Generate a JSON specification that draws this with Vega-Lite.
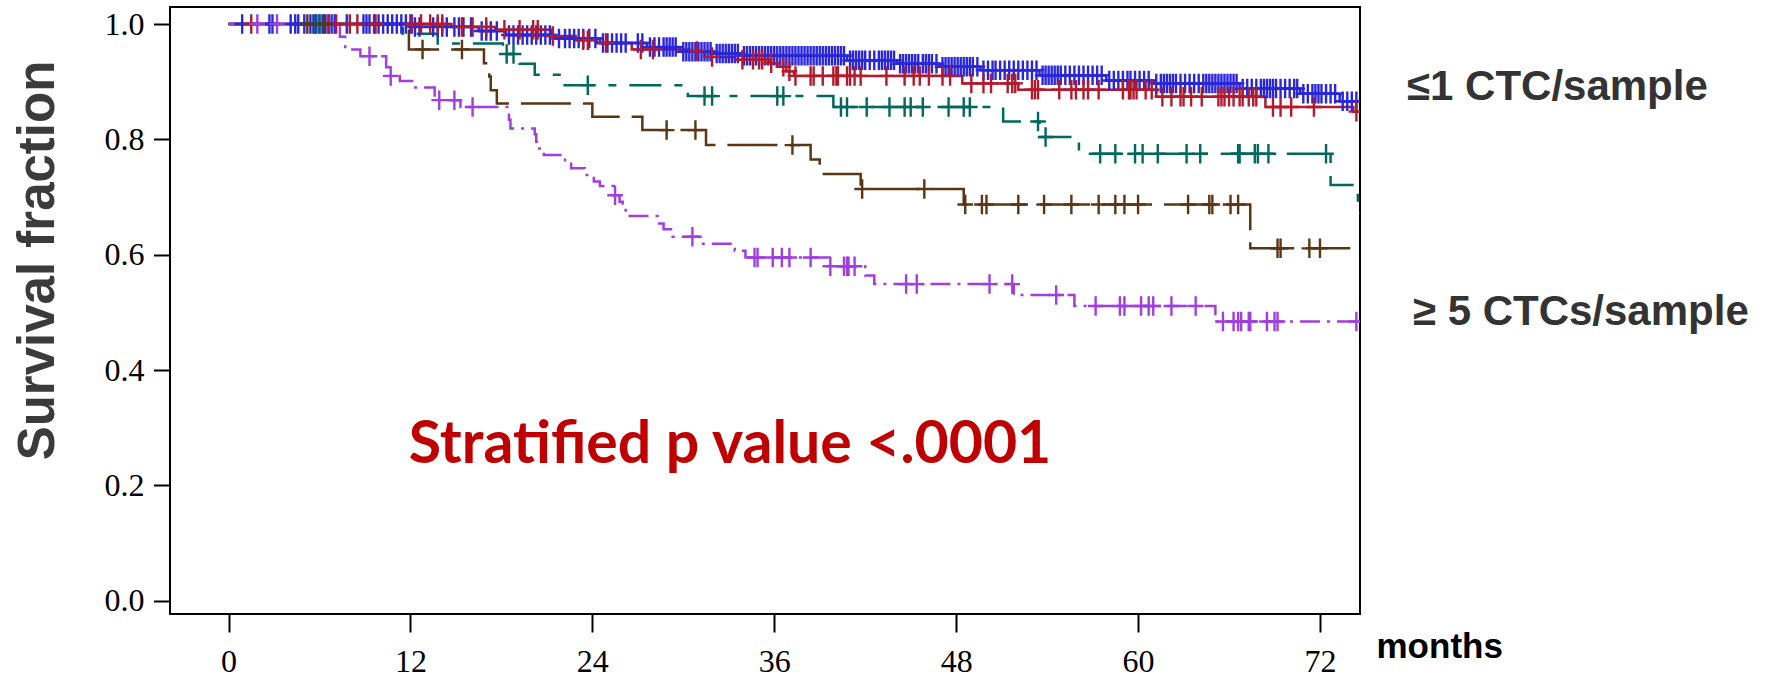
{
"$schema":"https://vega.github.io/schema/vega-lite/v6.json",
"width":1190,"height":607,
"autosize":{"type":"none"},
"padding":{"left":170,"top":7,"right":412,"bottom":66},
"background":"white",
"config":{"view":{"stroke":"black","strokeWidth":2},"axis":{"grid":false,"domain":false}},
"datasets":{
"curves":[
{"g":"0","t":0,"s":1},{"g":"0","t":12.2,"s":0.995},{"g":"0","t":16.5,"s":0.988},{"g":"0","t":18.3,"s":0.981},{"g":"0","t":21.5,"s":0.975},{"g":"0","t":24.5,"s":0.967},{"g":"0","t":27.6,"s":0.96},{"g":"0","t":29.8,"s":0.952},{"g":"0","t":32.0,"s":0.949},{"g":"0","t":33.8,"s":0.945},{"g":"0","t":40.8,"s":0.937},{"g":"0","t":44.1,"s":0.931},{"g":"0","t":46.9,"s":0.926},{"g":"0","t":49.6,"s":0.92},{"g":"0","t":53.5,"s":0.911},{"g":"0","t":57.9,"s":0.902},{"g":"0","t":61.0,"s":0.897},{"g":"0","t":66.7,"s":0.888},{"g":"0","t":70.7,"s":0.879},{"g":"0","t":73.3,"s":0.866},{"g":"0","t":74.6,"s":0.866},
{"g":"1","t":0,"s":1},{"g":"1","t":14.7,"s":0.995},{"g":"1","t":17.6,"s":0.99},{"g":"1","t":21.3,"s":0.979},{"g":"1","t":22.9,"s":0.972},{"g":"1","t":24.3,"s":0.967},{"g":"1","t":26.6,"s":0.956},{"g":"1","t":30.4,"s":0.953},{"g":"1","t":31.4,"s":0.943},{"g":"1","t":33.4,"s":0.938},{"g":"1","t":35.7,"s":0.932},{"g":"1","t":36.2,"s":0.926},{"g":"1","t":36.8,"s":0.918},{"g":"1","t":37.3,"s":0.91},{"g":"1","t":48.4,"s":0.897},{"g":"1","t":52.1,"s":0.886},{"g":"1","t":61.2,"s":0.874},{"g":"1","t":68.4,"s":0.856},{"g":"1","t":74.2,"s":0.848},{"g":"1","t":74.6,"s":0.848},
{"g":"2","t":0,"s":1},{"g":"2","t":11.5,"s":0.983},{"g":"2","t":13.8,"s":0.966},{"g":"2","t":18.1,"s":0.948},{"g":"2","t":19.2,"s":0.931},{"g":"2","t":20.2,"s":0.912},{"g":"2","t":22.0,"s":0.894},{"g":"2","t":30.3,"s":0.875},{"g":"2","t":39.9,"s":0.856},{"g":"2","t":51.1,"s":0.831},{"g":"2","t":53.5,"s":0.804},{"g":"2","t":56.1,"s":0.775},{"g":"2","t":72.7,"s":0.721},{"g":"2","t":74.5,"s":0.672},{"g":"2","t":74.64,"s":0.672},
{"g":"3-4","t":0,"s":1},{"g":"3-4","t":11.9,"s":0.956},{"g":"3-4","t":16.85,"s":0.932},{"g":"3-4","t":17.2,"s":0.909},{"g":"3-4","t":17.3,"s":0.885},{"g":"3-4","t":17.7,"s":0.862},{"g":"3-4","t":24.0,"s":0.839},{"g":"3-4","t":27.3,"s":0.816},{"g":"3-4","t":31.5,"s":0.79},{"g":"3-4","t":38.4,"s":0.765},{"g":"3-4","t":39.0,"s":0.74},{"g":"3-4","t":41.7,"s":0.714},{"g":"3-4","t":48.5,"s":0.687},{"g":"3-4","t":67.4,"s":0.611},{"g":"3-4","t":74.0,"s":0.611},
{"g":"≥5","t":0,"s":1},{"g":"≥5","t":7.35,"s":0.978},{"g":"≥5","t":7.7,"s":0.956},{"g":"≥5","t":8.7,"s":0.944},{"g":"≥5","t":10.4,"s":0.925},{"g":"≥5","t":10.6,"s":0.91},{"g":"≥5","t":11.3,"s":0.901},{"g":"≥5","t":12.2,"s":0.89},{"g":"≥5","t":13.6,"s":0.868},{"g":"≥5","t":15.3,"s":0.856},{"g":"≥5","t":18.5,"s":0.834},{"g":"≥5","t":18.6,"s":0.819},{"g":"≥5","t":20.2,"s":0.809},{"g":"≥5","t":20.3,"s":0.796},{"g":"≥5","t":20.5,"s":0.784},{"g":"≥5","t":20.8,"s":0.773},{"g":"≥5","t":22.2,"s":0.761},{"g":"≥5","t":22.6,"s":0.75},{"g":"≥5","t":23.5,"s":0.738},{"g":"≥5","t":24.1,"s":0.727},{"g":"≥5","t":24.5,"s":0.719},{"g":"≥5","t":25.4,"s":0.703},{"g":"≥5","t":25.8,"s":0.692},{"g":"≥5","t":26.0,"s":0.683},{"g":"≥5","t":26.2,"s":0.667},{"g":"≥5","t":28.3,"s":0.654},{"g":"≥5","t":28.7,"s":0.644},{"g":"≥5","t":29.3,"s":0.631},{"g":"≥5","t":31.3,"s":0.619},{"g":"≥5","t":33.4,"s":0.607},{"g":"≥5","t":34.1,"s":0.595},{"g":"≥5","t":39.6,"s":0.58},{"g":"≥5","t":42.0,"s":0.564},{"g":"≥5","t":42.6,"s":0.549},{"g":"≥5","t":51.8,"s":0.53},{"g":"≥5","t":55.8,"s":0.511},{"g":"≥5","t":65.1,"s":0.484},{"g":"≥5","t":74.6,"s":0.484}
],
"cens":[
{"g":"0","t":0.9,"s":1},{"g":"0","t":2.7,"s":1},{"g":"0","t":2.9,"s":1},{"g":"0","t":4.1,"s":1},{"g":"0","t":4.4,"s":1},{"g":"0","t":4.6,"s":1},{"g":"0","t":5.0,"s":1},{"g":"0","t":5.4,"s":1},{"g":"0","t":5.6,"s":1},{"g":"0","t":5.8,"s":1},{"g":"0","t":6.0,"s":1},{"g":"0","t":6.2,"s":1},{"g":"0","t":6.4,"s":1},{"g":"0","t":6.6,"s":1},{"g":"0","t":6.8,"s":1},{"g":"0","t":7.0,"s":1},{"g":"0","t":7.8,"s":1},{"g":"0","t":8.9,"s":1},{"g":"0","t":9.1,"s":1},{"g":"0","t":9.3,"s":1},{"g":"0","t":9.6,"s":1},{"g":"0","t":9.9,"s":1},{"g":"0","t":10.2,"s":1},{"g":"0","t":10.5,"s":1},{"g":"0","t":10.8,"s":1},{"g":"0","t":11.1,"s":1},{"g":"0","t":11.4,"s":1},{"g":"0","t":11.7,"s":1},{"g":"0","t":12.0,"s":1},
{"g":"0","t":12.3,"s":0.995},{"g":"0","t":12.6,"s":0.995},{"g":"0","t":13.5,"s":0.995},{"g":"0","t":13.8,"s":0.995},{"g":"0","t":14.1,"s":0.995},{"g":"0","t":14.4,"s":0.995},{"g":"0","t":14.9,"s":0.995},{"g":"0","t":15.2,"s":0.995},{"g":"0","t":15.5,"s":0.995},{"g":"0","t":16.0,"s":0.995},
{"g":"0","t":16.7,"s":0.988},{"g":"0","t":17.0,"s":0.988},{"g":"0","t":17.3,"s":0.988},{"g":"0","t":17.7,"s":0.988},
{"g":"0","t":18.5,"s":0.981},{"g":"0","t":18.8,"s":0.981},{"g":"0","t":19.1,"s":0.981},{"g":"0","t":19.4,"s":0.981},{"g":"0","t":19.7,"s":0.981},{"g":"0","t":20.0,"s":0.981},{"g":"0","t":20.3,"s":0.981},{"g":"0","t":20.6,"s":0.981},{"g":"0","t":20.9,"s":0.981},{"g":"0","t":21.2,"s":0.981},
{"g":"0","t":21.8,"s":0.975},{"g":"0","t":22.2,"s":0.975},{"g":"0","t":22.5,"s":0.975},{"g":"0","t":22.8,"s":0.975},{"g":"0","t":23.1,"s":0.975},{"g":"0","t":23.4,"s":0.975},{"g":"0","t":23.8,"s":0.975},{"g":"0","t":24.2,"s":0.975},
{"g":"0","t":24.7,"s":0.967},{"g":"0","t":25.0,"s":0.967},{"g":"0","t":25.3,"s":0.967},{"g":"0","t":25.6,"s":0.967},{"g":"0","t":25.9,"s":0.967},{"g":"0","t":26.2,"s":0.967},{"g":"0","t":27.0,"s":0.967},{"g":"0","t":27.3,"s":0.967},
{"g":"0","t":27.8,"s":0.96},{"g":"0","t":28.1,"s":0.96},{"g":"0","t":28.4,"s":0.96},{"g":"0","t":28.7,"s":0.96},{"g":"0","t":28.9,"s":0.96},{"g":"0","t":29.1,"s":0.96},{"g":"0","t":29.3,"s":0.96},{"g":"0","t":29.5,"s":0.96},
{"g":"0","t":30.0,"s":0.952},{"g":"0","t":30.2,"s":0.952},{"g":"0","t":30.4,"s":0.952},{"g":"0","t":30.6,"s":0.952},{"g":"0","t":30.8,"s":0.952},{"g":"0","t":31.0,"s":0.952},{"g":"0","t":31.2,"s":0.952},{"g":"0","t":31.4,"s":0.952},{"g":"0","t":31.6,"s":0.952},{"g":"0","t":31.8,"s":0.952},
{"g":"0","t":32.2,"s":0.949},{"g":"0","t":32.4,"s":0.949},{"g":"0","t":32.6,"s":0.949},{"g":"0","t":32.8,"s":0.949},{"g":"0","t":33.0,"s":0.949},{"g":"0","t":33.2,"s":0.949},{"g":"0","t":33.4,"s":0.949},{"g":"0","t":33.6,"s":0.949},
{"g":"0","t":34.0,"s":0.945},{"g":"0","t":34.2,"s":0.945},{"g":"0","t":34.4,"s":0.945},{"g":"0","t":34.6,"s":0.945},{"g":"0","t":34.8,"s":0.945},{"g":"0","t":35.0,"s":0.945},{"g":"0","t":35.2,"s":0.945},{"g":"0","t":35.4,"s":0.945},{"g":"0","t":35.6,"s":0.945},{"g":"0","t":35.8,"s":0.945},{"g":"0","t":36.0,"s":0.945},{"g":"0","t":36.2,"s":0.945},{"g":"0","t":36.4,"s":0.945},{"g":"0","t":36.6,"s":0.945},{"g":"0","t":36.8,"s":0.945},{"g":"0","t":37.0,"s":0.945},{"g":"0","t":37.2,"s":0.945},{"g":"0","t":37.4,"s":0.945},{"g":"0","t":37.6,"s":0.945},{"g":"0","t":37.8,"s":0.945},{"g":"0","t":38.0,"s":0.945},{"g":"0","t":38.2,"s":0.945},{"g":"0","t":38.4,"s":0.945},{"g":"0","t":38.6,"s":0.945},{"g":"0","t":38.8,"s":0.945},{"g":"0","t":39.0,"s":0.945},{"g":"0","t":39.2,"s":0.945},{"g":"0","t":39.4,"s":0.945},{"g":"0","t":39.6,"s":0.945},{"g":"0","t":39.8,"s":0.945},{"g":"0","t":40.0,"s":0.945},{"g":"0","t":40.2,"s":0.945},{"g":"0","t":40.4,"s":0.945},{"g":"0","t":40.6,"s":0.945},
{"g":"0","t":41.0,"s":0.937},{"g":"0","t":41.2,"s":0.937},{"g":"0","t":41.4,"s":0.937},{"g":"0","t":41.6,"s":0.937},{"g":"0","t":41.8,"s":0.937},{"g":"0","t":42.0,"s":0.937},{"g":"0","t":42.3,"s":0.937},{"g":"0","t":42.6,"s":0.937},{"g":"0","t":42.9,"s":0.937},{"g":"0","t":43.1,"s":0.937},{"g":"0","t":43.3,"s":0.937},{"g":"0","t":43.5,"s":0.937},{"g":"0","t":43.7,"s":0.937},{"g":"0","t":43.9,"s":0.937},
{"g":"0","t":44.3,"s":0.931},{"g":"0","t":44.5,"s":0.931},{"g":"0","t":44.7,"s":0.931},{"g":"0","t":44.9,"s":0.931},{"g":"0","t":45.1,"s":0.931},{"g":"0","t":45.3,"s":0.931},{"g":"0","t":45.5,"s":0.931},{"g":"0","t":45.8,"s":0.931},{"g":"0","t":46.0,"s":0.931},{"g":"0","t":46.2,"s":0.931},{"g":"0","t":46.4,"s":0.931},{"g":"0","t":46.7,"s":0.931},
{"g":"0","t":47.1,"s":0.926},{"g":"0","t":47.3,"s":0.926},{"g":"0","t":47.5,"s":0.926},{"g":"0","t":47.7,"s":0.926},{"g":"0","t":47.9,"s":0.926},{"g":"0","t":48.1,"s":0.926},{"g":"0","t":48.3,"s":0.926},{"g":"0","t":48.5,"s":0.926},{"g":"0","t":48.7,"s":0.926},{"g":"0","t":48.9,"s":0.926},{"g":"0","t":49.1,"s":0.926},{"g":"0","t":49.4,"s":0.926},
{"g":"0","t":49.8,"s":0.92},{"g":"0","t":50.1,"s":0.92},{"g":"0","t":50.4,"s":0.92},{"g":"0","t":50.6,"s":0.92},{"g":"0","t":50.9,"s":0.92},{"g":"0","t":51.2,"s":0.92},{"g":"0","t":51.5,"s":0.92},{"g":"0","t":51.8,"s":0.92},{"g":"0","t":52.1,"s":0.92},{"g":"0","t":52.4,"s":0.92},{"g":"0","t":52.7,"s":0.92},{"g":"0","t":53.0,"s":0.92},{"g":"0","t":53.3,"s":0.92},
{"g":"0","t":53.7,"s":0.911},{"g":"0","t":53.9,"s":0.911},{"g":"0","t":54.1,"s":0.911},{"g":"0","t":54.3,"s":0.911},{"g":"0","t":54.5,"s":0.911},{"g":"0","t":54.7,"s":0.911},{"g":"0","t":54.9,"s":0.911},{"g":"0","t":55.2,"s":0.911},{"g":"0","t":55.5,"s":0.911},{"g":"0","t":55.8,"s":0.911},{"g":"0","t":56.1,"s":0.911},{"g":"0","t":56.4,"s":0.911},{"g":"0","t":56.7,"s":0.911},{"g":"0","t":57.0,"s":0.911},{"g":"0","t":57.3,"s":0.911},{"g":"0","t":57.6,"s":0.911},
{"g":"0","t":58.1,"s":0.902},{"g":"0","t":58.4,"s":0.902},{"g":"0","t":58.7,"s":0.902},{"g":"0","t":59.0,"s":0.902},{"g":"0","t":59.3,"s":0.902},{"g":"0","t":59.5,"s":0.902},{"g":"0","t":59.8,"s":0.902},{"g":"0","t":60.1,"s":0.902},{"g":"0","t":60.4,"s":0.902},{"g":"0","t":60.7,"s":0.902},
{"g":"0","t":61.2,"s":0.897},{"g":"0","t":61.5,"s":0.897},{"g":"0","t":61.7,"s":0.897},{"g":"0","t":61.9,"s":0.897},{"g":"0","t":62.1,"s":0.897},{"g":"0","t":62.3,"s":0.897},{"g":"0","t":62.5,"s":0.897},{"g":"0","t":62.8,"s":0.897},{"g":"0","t":63.1,"s":0.897},{"g":"0","t":63.4,"s":0.897},{"g":"0","t":63.7,"s":0.897},{"g":"0","t":64.0,"s":0.897},{"g":"0","t":64.3,"s":0.897},{"g":"0","t":64.5,"s":0.897},{"g":"0","t":64.7,"s":0.897},{"g":"0","t":64.9,"s":0.897},{"g":"0","t":65.1,"s":0.897},{"g":"0","t":65.3,"s":0.897},{"g":"0","t":65.5,"s":0.897},{"g":"0","t":65.7,"s":0.897},{"g":"0","t":65.9,"s":0.897},{"g":"0","t":66.1,"s":0.897},{"g":"0","t":66.3,"s":0.897},{"g":"0","t":66.5,"s":0.897},
{"g":"0","t":66.9,"s":0.888},{"g":"0","t":67.2,"s":0.888},{"g":"0","t":67.5,"s":0.888},{"g":"0","t":67.8,"s":0.888},{"g":"0","t":68.1,"s":0.888},{"g":"0","t":68.3,"s":0.888},{"g":"0","t":68.5,"s":0.888},{"g":"0","t":68.7,"s":0.888},{"g":"0","t":68.9,"s":0.888},{"g":"0","t":69.1,"s":0.888},{"g":"0","t":69.4,"s":0.888},{"g":"0","t":69.7,"s":0.888},{"g":"0","t":70.0,"s":0.888},{"g":"0","t":70.3,"s":0.888},{"g":"0","t":70.5,"s":0.888},
{"g":"0","t":70.9,"s":0.879},{"g":"0","t":71.2,"s":0.879},{"g":"0","t":71.5,"s":0.879},{"g":"0","t":71.7,"s":0.879},{"g":"0","t":71.9,"s":0.879},{"g":"0","t":72.1,"s":0.879},{"g":"0","t":72.4,"s":0.879},{"g":"0","t":72.7,"s":0.879},{"g":"0","t":73.0,"s":0.879},
{"g":"0","t":73.5,"s":0.866},{"g":"0","t":73.8,"s":0.866},{"g":"0","t":74.1,"s":0.866},{"g":"0","t":74.4,"s":0.866},
{"g":"1","t":1.5,"s":1},{"g":"1","t":6.6,"s":1},{"g":"1","t":7.1,"s":1},{"g":"1","t":8.0,"s":1},{"g":"1","t":8.5,"s":1},{"g":"1","t":9.7,"s":1},{"g":"1","t":12.1,"s":1},{"g":"1","t":12.7,"s":1},{"g":"1","t":13.3,"s":1},{"g":"1","t":13.8,"s":1},{"g":"1","t":14.1,"s":1},
{"g":"1","t":15.4,"s":0.995},{"g":"1","t":16.1,"s":0.995},{"g":"1","t":17.0,"s":0.995},
{"g":"1","t":18.2,"s":0.99},{"g":"1","t":19.2,"s":0.99},{"g":"1","t":20.1,"s":0.99},{"g":"1","t":20.4,"s":0.99},
{"g":"1","t":21.4,"s":0.979},{"g":"1","t":23.4,"s":0.972},{"g":"1","t":23.7,"s":0.972},{"g":"1","t":24.9,"s":0.967},{"g":"1","t":27.2,"s":0.956},{"g":"1","t":28.0,"s":0.956},{"g":"1","t":30.9,"s":0.953},{"g":"1","t":31.9,"s":0.943},
{"g":"1","t":33.9,"s":0.938},{"g":"1","t":34.6,"s":0.938},{"g":"1","t":35.0,"s":0.938},{"g":"1","t":35.2,"s":0.938},{"g":"1","t":35.8,"s":0.932},{"g":"1","t":36.6,"s":0.926},{"g":"1","t":37.0,"s":0.918},
{"g":"1","t":37.4,"s":0.91},{"g":"1","t":38.4,"s":0.91},{"g":"1","t":38.6,"s":0.91},{"g":"1","t":39.2,"s":0.91},{"g":"1","t":39.9,"s":0.91},{"g":"1","t":40.1,"s":0.91},{"g":"1","t":40.2,"s":0.91},{"g":"1","t":40.8,"s":0.91},{"g":"1","t":41.0,"s":0.91},{"g":"1","t":41.3,"s":0.91},{"g":"1","t":41.7,"s":0.91},{"g":"1","t":43.4,"s":0.91},{"g":"1","t":44.6,"s":0.91},{"g":"1","t":45.2,"s":0.91},{"g":"1","t":45.6,"s":0.91},{"g":"1","t":46.2,"s":0.91},{"g":"1","t":47.1,"s":0.91},{"g":"1","t":47.6,"s":0.91},
{"g":"1","t":49.0,"s":0.897},{"g":"1","t":49.8,"s":0.897},{"g":"1","t":50.3,"s":0.897},{"g":"1","t":51.4,"s":0.897},{"g":"1","t":51.7,"s":0.897},{"g":"1","t":51.9,"s":0.897},
{"g":"1","t":53.0,"s":0.886},{"g":"1","t":53.2,"s":0.886},{"g":"1","t":53.4,"s":0.886},{"g":"1","t":54.8,"s":0.886},{"g":"1","t":55.6,"s":0.886},{"g":"1","t":55.9,"s":0.886},{"g":"1","t":56.4,"s":0.886},{"g":"1","t":56.7,"s":0.886},{"g":"1","t":57.4,"s":0.886},{"g":"1","t":59.0,"s":0.886},{"g":"1","t":59.4,"s":0.886},{"g":"1","t":59.5,"s":0.886},{"g":"1","t":59.7,"s":0.886},{"g":"1","t":59.9,"s":0.886},{"g":"1","t":60.5,"s":0.886},{"g":"1","t":60.9,"s":0.886},
{"g":"1","t":61.6,"s":0.874},{"g":"1","t":62.2,"s":0.874},{"g":"1","t":62.8,"s":0.874},{"g":"1","t":63.0,"s":0.874},{"g":"1","t":63.5,"s":0.874},{"g":"1","t":64.2,"s":0.874},{"g":"1","t":65.3,"s":0.874},{"g":"1","t":65.5,"s":0.874},{"g":"1","t":65.7,"s":0.874},{"g":"1","t":66.0,"s":0.874},{"g":"1","t":66.3,"s":0.874},{"g":"1","t":66.7,"s":0.874},{"g":"1","t":66.9,"s":0.874},{"g":"1","t":67.3,"s":0.874},{"g":"1","t":67.6,"s":0.874},{"g":"1","t":67.8,"s":0.874},
{"g":"1","t":68.9,"s":0.856},{"g":"1","t":69.4,"s":0.856},{"g":"1","t":70.1,"s":0.856},{"g":"1","t":71.6,"s":0.856},{"g":"1","t":74.4,"s":0.848},
{"g":"2","t":5.7,"s":1},{"g":"2","t":6.0,"s":1},{"g":"2","t":18.35,"s":0.948},{"g":"2","t":18.8,"s":0.948},{"g":"2","t":23.7,"s":0.894},{"g":"2","t":31.4,"s":0.875},{"g":"2","t":31.9,"s":0.875},{"g":"2","t":36.2,"s":0.875},{"g":"2","t":36.6,"s":0.875},
{"g":"2","t":40.4,"s":0.856},{"g":"2","t":40.8,"s":0.856},{"g":"2","t":42.1,"s":0.856},{"g":"2","t":43.6,"s":0.856},{"g":"2","t":44.6,"s":0.856},{"g":"2","t":45.0,"s":0.856},{"g":"2","t":45.8,"s":0.856},{"g":"2","t":47.5,"s":0.856},{"g":"2","t":48.5,"s":0.856},{"g":"2","t":48.9,"s":0.856},
{"g":"2","t":53.4,"s":0.831},{"g":"2","t":53.9,"s":0.804},
{"g":"2","t":57.5,"s":0.775},{"g":"2","t":58.5,"s":0.775},{"g":"2","t":59.8,"s":0.775},{"g":"2","t":60.3,"s":0.775},{"g":"2","t":61.3,"s":0.775},{"g":"2","t":63.2,"s":0.775},{"g":"2","t":64.1,"s":0.775},{"g":"2","t":66.6,"s":0.775},{"g":"2","t":66.7,"s":0.775},{"g":"2","t":67.7,"s":0.775},{"g":"2","t":67.9,"s":0.775},{"g":"2","t":68.6,"s":0.775},{"g":"2","t":72.4,"s":0.775},
{"g":"3-4","t":5.2,"s":1},{"g":"3-4","t":6.3,"s":1},{"g":"3-4","t":12.8,"s":0.956},{"g":"3-4","t":15.4,"s":0.956},{"g":"3-4","t":28.9,"s":0.816},{"g":"3-4","t":30.8,"s":0.816},{"g":"3-4","t":37.2,"s":0.79},{"g":"3-4","t":41.8,"s":0.714},{"g":"3-4","t":45.9,"s":0.714},
{"g":"3-4","t":48.6,"s":0.687},{"g":"3-4","t":49.7,"s":0.687},{"g":"3-4","t":50.0,"s":0.687},{"g":"3-4","t":52.1,"s":0.687},{"g":"3-4","t":53.8,"s":0.687},{"g":"3-4","t":55.6,"s":0.687},{"g":"3-4","t":57.4,"s":0.687},{"g":"3-4","t":58.5,"s":0.687},{"g":"3-4","t":59.1,"s":0.687},{"g":"3-4","t":60.0,"s":0.687},{"g":"3-4","t":63.3,"s":0.687},{"g":"3-4","t":64.7,"s":0.687},{"g":"3-4","t":64.9,"s":0.687},{"g":"3-4","t":66.1,"s":0.687},{"g":"3-4","t":66.6,"s":0.687},
{"g":"3-4","t":69.2,"s":0.611},{"g":"3-4","t":69.4,"s":0.611},{"g":"3-4","t":71.3,"s":0.611},{"g":"3-4","t":72.0,"s":0.611},
{"g":"≥5","t":1.9,"s":1},{"g":"≥5","t":3.2,"s":1},{"g":"≥5","t":9.3,"s":0.944},{"g":"≥5","t":10.7,"s":0.91},{"g":"≥5","t":13.9,"s":0.868},{"g":"≥5","t":14.9,"s":0.868},{"g":"≥5","t":16.1,"s":0.856},{"g":"≥5","t":25.5,"s":0.703},{"g":"≥5","t":30.6,"s":0.631},
{"g":"≥5","t":34.7,"s":0.595},{"g":"≥5","t":34.9,"s":0.595},{"g":"≥5","t":35.9,"s":0.595},{"g":"≥5","t":36.5,"s":0.595},{"g":"≥5","t":37.0,"s":0.595},{"g":"≥5","t":38.4,"s":0.595},
{"g":"≥5","t":39.7,"s":0.58},{"g":"≥5","t":40.6,"s":0.58},{"g":"≥5","t":40.8,"s":0.58},{"g":"≥5","t":40.9,"s":0.58},{"g":"≥5","t":41.3,"s":0.58},
{"g":"≥5","t":44.7,"s":0.549},{"g":"≥5","t":45.4,"s":0.549},{"g":"≥5","t":50.2,"s":0.549},{"g":"≥5","t":51.7,"s":0.549},{"g":"≥5","t":54.6,"s":0.53},
{"g":"≥5","t":57.2,"s":0.511},{"g":"≥5","t":58.8,"s":0.511},{"g":"≥5","t":59.1,"s":0.511},{"g":"≥5","t":60.2,"s":0.511},{"g":"≥5","t":60.7,"s":0.511},{"g":"≥5","t":61.0,"s":0.511},{"g":"≥5","t":62.2,"s":0.511},{"g":"≥5","t":63.8,"s":0.511},
{"g":"≥5","t":65.6,"s":0.484},{"g":"≥5","t":66.3,"s":0.484},{"g":"≥5","t":66.6,"s":0.484},{"g":"≥5","t":66.8,"s":0.484},{"g":"≥5","t":67.3,"s":0.484},{"g":"≥5","t":67.4,"s":0.484},{"g":"≥5","t":68.5,"s":0.484},{"g":"≥5","t":69.0,"s":0.484},{"g":"≥5","t":69.2,"s":0.484},{"g":"≥5","t":74.4,"s":0.484}
],
"pnote":[{"t":11.89,"s":0.2383,"label":"Stratified p value <.0001"}],
"side":[{"t":77.74,"s":0.868,"label":"≤1 CTC/sample"},{"t":78.13,"s":0.478,"label":"≥ 5 CTCs/sample"}]
},
"layer":[
{"data":{"name":"curves"},
 "mark":{"type":"line","interpolate":"step-after","strokeWidth":2.5,"clip":true},
 "encoding":{
  "x":{"field":"t","type":"quantitative","scale":{"domain":[-3.86,74.64],"nice":false,"zero":false},
   "axis":{"values":[0,12,24,36,48,60,72],"tickSize":18,"tickWidth":2,"tickColor":"black","labelFont":"Liberation Serif","labelFontSize":32,"labelColor":"black","labelPadding":14,"title":"months","titleFont":"Liberation Sans","titleFontWeight":"bold","titleFontSize":35,"titleColor":"black","titleX":1206,"titleY":43,"titleAlign":"left","titleBaseline":"alphabetic"}},
  "y":{"field":"s","type":"quantitative","scale":{"domain":[-0.0231,1.0295],"nice":false,"zero":false},
   "axis":{"values":[0,0.2,0.4,0.6,0.8,1.0],"format":".1f","tickSize":16.5,"tickWidth":2,"tickColor":"black","labelFont":"Liberation Serif","labelFontSize":32,"labelColor":"black","labelPadding":9.5,"title":"Survival fraction","titleFont":"Liberation Sans","titleFontWeight":"bold","titleFontSize":51,"titleColor":"#3b3b3b","titleAngle":-90,"titleX":-117,"titleY":253,"titleAlign":"center","titleBaseline":"alphabetic"}},
  "color":{"field":"g","type":"nominal","scale":{"domain":["0","1","2","3-4","≥5"],"range":["#2a26dc","#b21a2e","#00695e","#5a3612","#a03ee0"]},"legend":null},
  "strokeDash":{"field":"g","type":"nominal","scale":{"domain":["0","1","2","3-4","≥5"],"range":[[1,0],[1,0],[32,13,8,13],[50,12],[20,7,3,7]]},"legend":null}
 }},
{"data":{"name":"cens"},
 "mark":{"type":"point","shape":"M-0.8,0H0.8M0,-1V1","size":380,"filled":false,"strokeWidth":2.4,"opacity":1,"clip":true},
 "encoding":{
  "x":{"field":"t","type":"quantitative"},
  "y":{"field":"s","type":"quantitative"},
  "color":{"field":"g","type":"nominal","legend":null}
 }},
{"data":{"name":"pnote"},
 "mark":{"type":"text","align":"left","baseline":"alphabetic","font":"Lato","fontWeight":"bold","fontSize":59,"color":"#c00000"},
 "encoding":{"x":{"field":"t","type":"quantitative"},"y":{"field":"s","type":"quantitative"},"text":{"field":"label"}}},
{"data":{"name":"side"},
 "mark":{"type":"text","align":"left","baseline":"alphabetic","font":"Liberation Sans","fontWeight":"bold","fontSize":42,"color":"#333333"},
 "encoding":{"x":{"field":"t","type":"quantitative"},"y":{"field":"s","type":"quantitative"},"text":{"field":"label"}}}
]
}
